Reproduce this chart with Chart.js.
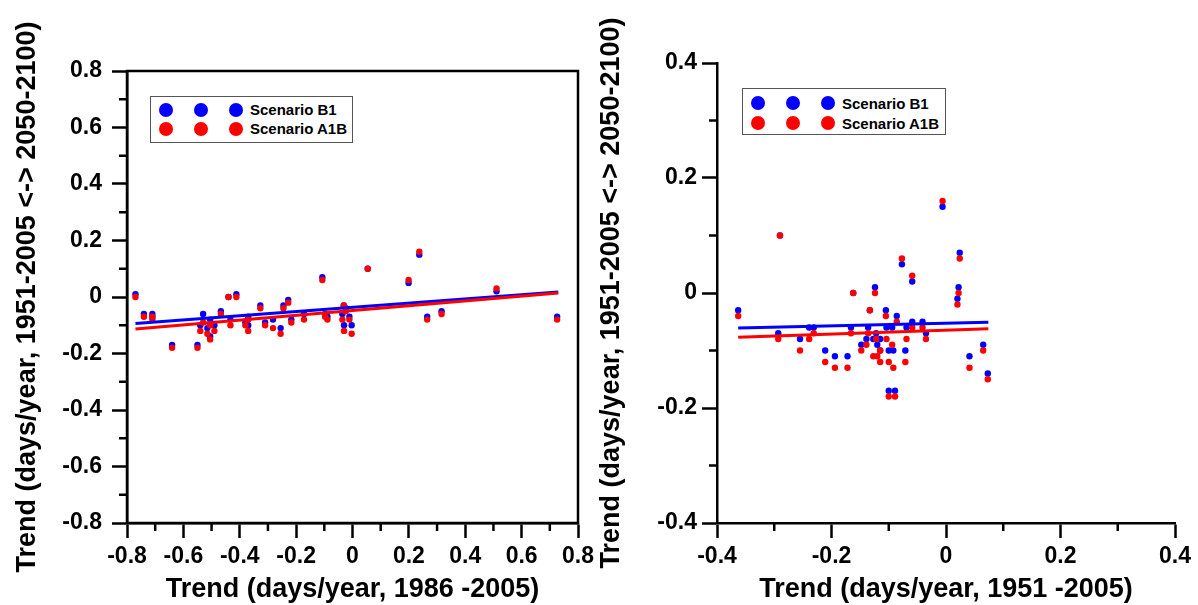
<!DOCTYPE html>
<html>
<head>
<meta charset="utf-8">
<script src="https://cdn.jsdelivr.net/npm/chart.js@4.4.0/dist/chart.umd.min.js"></script>
<style>
  body { margin: 0; background: #fff; width: 1198px; height: 605px; position: relative; overflow: hidden; }
  canvas { position: absolute; top: 0; }
  #left-chart { left: 0; }
  #right-chart { left: 585px; }
  .legend { position: absolute; border: 1px solid #555; background: #fff; font-family: "Liberation Sans", Arial, sans-serif; font-weight: bold; font-size: 15px; box-sizing: border-box; }
  .legend .row { height: 19px; display: flex; align-items: center; }
  .legend .dot { width: 14px; height: 14px; border-radius: 50%; margin-right: 21px; flex: none; }
  .legend .dot:first-child { margin-left: 8px; }
  .legend .dot:nth-child(3) { margin-right: 7px; }
</style>
</head>
<body>
<canvas id="left-chart" width="600" height="605"></canvas>
<canvas id="right-chart" width="613" height="605"></canvas>

<div class="legend" style="left:150px; top:96px; width:203px; height:47px; padding-top:3px;">
  <div class="row"><span class="dot" style="background:#0000ff"></span><span class="dot" style="background:#0000ff"></span><span class="dot" style="background:#0000ff"></span><span>Scenario B1</span></div>
  <div class="row"><span class="dot" style="background:#ff0000"></span><span class="dot" style="background:#ff0000"></span><span class="dot" style="background:#ff0000"></span><span>Scenario A1B</span></div>
</div>
<div class="legend" style="left:742px; top:88px; width:204px; height:47px; padding-top:4px;">
  <div class="row" style="height:20px"><span class="dot" style="background:#0000ff"></span><span class="dot" style="background:#0000ff"></span><span class="dot" style="background:#0000ff"></span><span>Scenario B1</span></div>
  <div class="row" style="height:20px"><span class="dot" style="background:#ff0000"></span><span class="dot" style="background:#ff0000"></span><span class="dot" style="background:#ff0000"></span><span>Scenario A1B</span></div>
</div>

<script>
// left panel: trend 1986-2005 vs change in trend
const leftX = [-0.77, -0.74, -0.71, -0.71, -0.64, -0.55, -0.54, -0.53, -0.515, -0.505, -0.505, -0.49, -0.467, -0.44, -0.433,
  -0.412, -0.38, -0.37, -0.37, -0.327, -0.31, -0.282, -0.255, -0.245, -0.228, -0.217, -0.172, -0.107, -0.097, -0.089,
  -0.036, -0.031, -0.024, -0.03, -0.011, -0.003, 0.054, 0.199, 0.237, 0.265, 0.316, 0.511, 0.726]
const leftB1 = [0.01, -0.06, -0.06, -0.07, -0.17, -0.17, -0.10, -0.06, -0.11, -0.08, -0.14, -0.10, -0.05, 0.00, -0.08,
  0.01, -0.09, -0.07, -0.10, -0.03, -0.09, -0.08, -0.11, -0.03, -0.01, -0.08, -0.06, 0.07, -0.06, -0.07,
  -0.06, -0.03, -0.04, -0.10, -0.07, -0.10, 0.10, 0.05, 0.15, -0.07, -0.05, 0.02, -0.07]
const leftA1B = [0.00, -0.07, -0.07, -0.08, -0.18, -0.18, -0.12, -0.09, -0.13, -0.10, -0.15, -0.12, -0.06, 0.00, -0.10,
  0.00, -0.10, -0.08, -0.12, -0.04, -0.10, -0.11, -0.13, -0.04, -0.02, -0.09, -0.08, 0.06, -0.07, -0.08,
  -0.08, -0.03, -0.05, -0.12, -0.08, -0.13, 0.10, 0.06, 0.16, -0.08, -0.06, 0.03, -0.08]
const leftFitX = [-0.77, 0.73]
const leftFitB1 = [-0.094, 0.018]
const leftFitA1B = [-0.113, 0.014]

// right panel: trend 1951-2005 vs change in trend
const rightX = [-0.363, -0.29, -0.293, -0.255, -0.239, -0.231, -0.211, -0.194, -0.172, -0.166, -0.162, -0.148, -0.139, -0.136, -0.133,
  -0.124, -0.127, -0.122, -0.115, -0.12, -0.115, -0.105, -0.104, -0.10, -0.10, -0.092, -0.089, -0.094, -0.086, -0.077,
  -0.071, -0.069, -0.059, -0.059, -0.041, -0.035, -0.006, 0.024, 0.022, 0.02, 0.041, 0.065, 0.073]
const rightB1 = [-0.03, 0.10, -0.07, -0.08, -0.06, -0.06, -0.10, -0.11, -0.11, -0.06, 0.00, -0.09, -0.08, -0.06, -0.03,
  0.01, -0.08, -0.07, -0.08, -0.09, -0.10, -0.03, -0.06, -0.10, -0.17, -0.10, -0.17, -0.06, -0.04, 0.05,
  -0.10, -0.06, 0.02, -0.05, -0.05, -0.07, 0.15, 0.07, 0.01, -0.01, -0.11, -0.09, -0.14]
const rightA1B = [-0.04, 0.10, -0.08, -0.10, -0.08, -0.07, -0.12, -0.13, -0.13, -0.07, 0.00, -0.10, -0.09, -0.07, -0.03,
  0.00, -0.11, -0.08, -0.10, -0.11, -0.12, -0.04, -0.08, -0.12, -0.18, -0.13, -0.18, -0.09, -0.05, 0.06,
  -0.12, -0.08, 0.03, -0.06, -0.06, -0.08, 0.16, 0.06, 0.00, -0.02, -0.13, -0.10, -0.15]
const rightFitX = [-0.363, 0.074]
const rightFitB1 = [-0.061, -0.051]
const rightFitA1B = [-0.077, -0.062]

const yTitle = 'Trend (days/year, 1951-2005 <-> 2050-2100)'
const leftXTitle = 'Trend (days/year, 1986 -2005)'
const rightXTitle = 'Trend (days/year, 1951 -2005)'

const BLUE = '#0000ff'
const RED = '#ff0000'
const FONT = '"Liberation Sans", Arial, sans-serif'

function pairs(xs, ys) {
    return xs.map((x, i) => ({ x: x, y: ys[i] }))
}

function fmt(v) {
    if (Math.abs(v) < 1e-9) return '0'
    return v.toFixed(1)
}

// short ticks halfway between the labelled ones
const minorTicks = {
    id: 'minorTicks',
    afterDraw(chart) {
        let ctx = chart.ctx
        ctx.save()
        ctx.strokeStyle = '#000'
        ctx.lineWidth = 2.5
        Object.values(chart.scales).forEach(scale => {
            let t = scale.ticks
            for (let i = 0; i < t.length - 1; i++) {
                let p = scale.getPixelForValue((t[i].value + t[i + 1].value) / 2)
                ctx.beginPath()
                if (scale.isHorizontal()) {
                    ctx.moveTo(p, chart.chartArea.bottom)
                    ctx.lineTo(p, chart.chartArea.bottom + 8)
                } else {
                    ctx.moveTo(chart.chartArea.left - 8, p)
                    ctx.lineTo(chart.chartArea.left, p)
                }
                ctx.stroke()
            }
        })
        ctx.restore()
    }
}

const frame = {
    id: 'frame',
    afterDraw(chart, args, opts) {
        if (!opts.enabled) return
        let a = chart.chartArea
        let ctx = chart.ctx
        ctx.save()
        ctx.strokeStyle = '#000'
        ctx.lineWidth = 2.5
        ctx.strokeRect(a.left, a.top, a.right - a.left, a.bottom - a.top)
        ctx.restore()
    }
}

function makeChart(id, cfg) {
    let axisCommon = {
        type: 'linear',
        border: { display: true, color: '#000', width: 2.5 },
        grid: { drawOnChartArea: false, drawTicks: true, tickLength: 15, tickWidth: 2.5, tickColor: '#000' },
        ticks: { color: '#000', font: { family: FONT, size: 23, weight: 'bold' }, callback: fmt }
    }
    let titleFont = { family: FONT, size: 27, weight: 'bold', lineHeight: 1 }
    return new Chart(document.getElementById(id), {
        type: 'scatter',
        data: {
            datasets: [
                { label: 'B1 fit', type: 'line', data: pairs(cfg.fitX, cfg.fitB1), borderColor: BLUE, borderWidth: 3, pointRadius: 0, order: 1 },
                { label: 'A1B fit', type: 'line', data: pairs(cfg.fitX, cfg.fitA1B), borderColor: RED, borderWidth: 3, pointRadius: 0, order: 0 },
                { label: 'Scenario B1', data: pairs(cfg.x, cfg.b1), backgroundColor: BLUE, borderWidth: 0, pointRadius: 3.2, order: 3 },
                { label: 'Scenario A1B', data: pairs(cfg.x, cfg.a1b), backgroundColor: RED, borderWidth: 0, pointRadius: 3.2, order: 2 }
            ]
        },
        options: {
            responsive: false,
            animation: false,
            layout: { padding: { top: cfg.top, right: cfg.right, left: 0, bottom: 0 } },
            plugins: {
                legend: { display: false },
                tooltip: { enabled: false },
                frame: { enabled: cfg.frame }
            },
            scales: {
                x: Object.assign({}, axisCommon, {
                    min: cfg.min, max: cfg.max,
                    ticks: Object.assign({}, axisCommon.ticks, { stepSize: 0.2, padding: 5, maxRotation: 0 }),
                    title: { display: true, text: cfg.xTitle, color: '#000', font: titleFont, padding: { top: 0, bottom: 2 } },
                    afterFit: s => { s.height = 82 }
                }),
                y: Object.assign({}, axisCommon, {
                    min: cfg.min, max: cfg.max,
                    ticks: Object.assign({}, axisCommon.ticks, { stepSize: 0.2, padding: cfg.yPad }),
                    title: { display: true, text: yTitle, color: '#000', font: titleFont, padding: { top: cfg.titlePad, bottom: 0 } },
                    afterFit: s => { s.width = cfg.axisW }
                })
            }
        },
        plugins: [minorTicks, frame]
    })
}

makeChart('left-chart', {
    x: leftX, b1: leftB1, a1b: leftA1B,
    fitX: leftFitX, fitB1: leftFitB1, fitA1B: leftFitA1B,
    min: -0.8, max: 0.8, xTitle: leftXTitle,
    top: 71, right: 22, axisW: 127, yPad: 10, titlePad: 14, frame: true
})

makeChart('right-chart', {
    x: rightX, b1: rightB1, a1b: rightA1B,
    fitX: rightFitX, fitB1: rightFitB1, fitA1B: rightFitA1B,
    min: -0.4, max: 0.4, xTitle: rightXTitle,
    top: 63, right: 23, axisW: 132, yPad: 5, titlePad: 13, frame: false
})
</script>
</body>
</html>
